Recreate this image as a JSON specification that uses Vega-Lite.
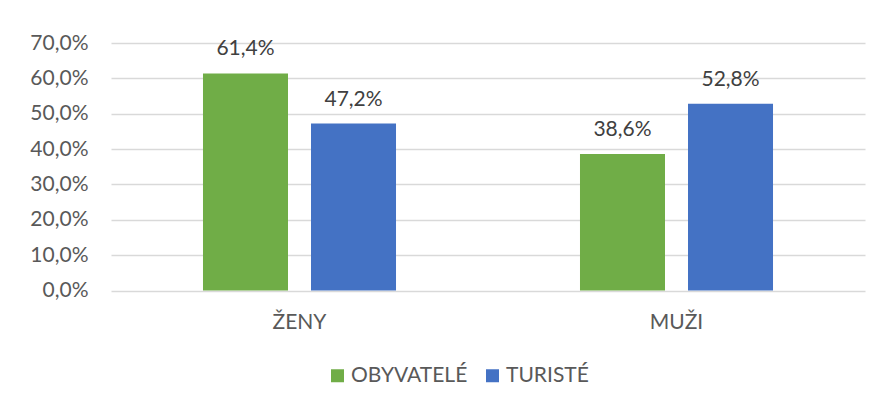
{
  "$schema": "https://vega.github.io/schema/vega-lite/v6.json",
  "width": 754,
  "height": 247.5,
  "autosize": {"type": "none"},
  "padding": {"left": 111, "top": 43, "right": 16, "bottom": 114.5},
  "background": "#ffffff",
  "data": {
    "values": [
      {"pohlavi": "ŽENY", "skupina": "OBYVATELÉ", "podil": 0.614},
      {"pohlavi": "ŽENY", "skupina": "TURISTÉ", "podil": 0.472},
      {"pohlavi": "MUŽI", "skupina": "OBYVATELÉ", "podil": 0.386},
      {"pohlavi": "MUŽI", "skupina": "TURISTÉ", "podil": 0.528}
    ]
  },
  "encoding": {
    "x": {
      "field": "pohlavi",
      "type": "nominal",
      "sort": ["ŽENY", "MUŽI"],
      "scale": {"paddingInner": 0.488, "paddingOuter": 0.244},
      "axis": {
        "title": null,
        "labelAngle": 0,
        "domain": false,
        "ticks": false,
        "labelPadding": 38,
        "labelBaseline": "alphabetic",
        "labelFont": "Lato",
        "labelFontSize": 21,
        "labelColor": "#595959"
      }
    },
    "xOffset": {
      "field": "skupina",
      "type": "nominal",
      "sort": ["OBYVATELÉ", "TURISTÉ"],
      "scale": {"paddingInner": 0.213, "paddingOuter": 0}
    },
    "y": {
      "field": "podil",
      "type": "quantitative",
      "scale": {"domain": [0, 0.7], "nice": false},
      "axis": {
        "title": null,
        "format": ".1%",
        "values": [0, 0.1, 0.2, 0.3, 0.4, 0.5, 0.6, 0.7],
        "labelOverlap": false,
        "labelFlush": false,
        "domain": false,
        "ticks": false,
        "labelPadding": 23,
        "labelFont": "Lato",
        "labelFontSize": 21,
        "labelColor": "#595959",
        "grid": true,
        "gridColor": "#D9D9D9",
        "gridWidth": 1.3
      }
    }
  },
  "layer": [
    {
      "mark": {"type": "bar"},
      "encoding": {
        "color": {
          "field": "skupina",
          "type": "nominal",
          "sort": ["OBYVATELÉ", "TURISTÉ"],
          "scale": {"domain": ["OBYVATELÉ", "TURISTÉ"], "range": ["#70AD47", "#4472C4"]},
          "legend": {
            "title": null,
            "orient": "none",
            "direction": "horizontal",
            "legendX": 216,
            "legendY": 322,
            "symbolType": "square",
            "symbolSize": 169,
            "symbolStrokeWidth": 0,
            "labelFont": "Lato",
            "labelFontSize": 21,
            "labelColor": "#595959",
            "labelOffset": 3,
            "columnPadding": 14
          }
        }
      }
    },
    {
      "mark": {
        "type": "text",
        "baseline": "alphabetic",
        "dy": -18,
        "font": "Lato",
        "fontSize": 21,
        "color": "#404040"
      },
      "encoding": {
        "text": {"field": "podil", "type": "quantitative", "format": ".1%"}
      }
    }
  ],
  "config": {
    "view": {"stroke": null},
    "locale": {
      "number": {
        "decimal": ",",
        "thousands": " ",
        "grouping": [3],
        "currency": ["", " Kč"]
      }
    }
  }
}
